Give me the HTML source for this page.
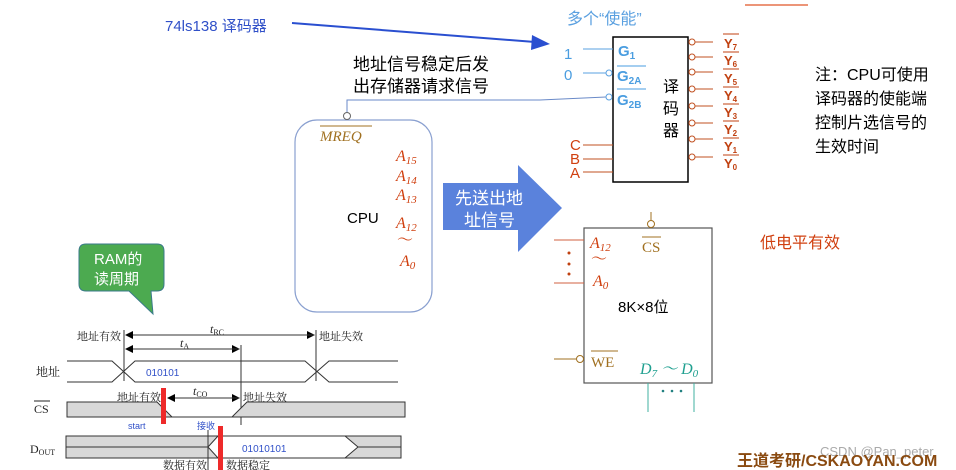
<!DOCTYPE html>
<html><head><meta charset="utf-8"><style>
body{margin:0;background:#fff;width:956px;height:470px;overflow:hidden}
svg{display:block}
text{font-family:"Liberation Sans","Noto Sans CJK SC",sans-serif}
.s{font-family:"Liberation Serif","Noto Serif CJK SC",serif}
</style></head><body>
<svg width="956" height="470" viewBox="0 0 956 470" xmlns="http://www.w3.org/2000/svg">
<defs>
<marker id="ah" markerWidth="8" markerHeight="8" refX="7" refY="4" orient="auto" markerUnits="userSpaceOnUse"><path d="M0,0 L8,4 L0,8 Z" fill="#000"/></marker>
</defs>
<line x1="745" y1="5" x2="808" y2="5" stroke="#e05020" stroke-width="2" opacity="0.6"/>
<text x="165" y="31" font-size="15" fill="#3050c8">74ls138 译码器</text>
<line x1="292" y1="23" x2="535" y2="42" stroke="#2a4fd0" stroke-width="2"/>
<polygon points="550,44 532,35 531,50" fill="#2a4fd0"/>
<text x="567" y="24" font-size="16" fill="#5aa0e0">多个“使能”</text>
<rect x="613" y="37" width="75" height="145" fill="#fff" stroke="#000" stroke-width="1.5"/>
<text x="564" y="59" font-size="15" fill="#4a9de0">1</text>
<text x="564" y="80" font-size="15" fill="#4a9de0">0</text>
<line x1="583" y1="49" x2="613" y2="49" stroke="#5aa0e0"/>
<line x1="583" y1="73" x2="606" y2="73" stroke="#5aa0e0"/>
<circle cx="609" cy="73" r="3" fill="#fff" stroke="#5aa0e0"/>
<path d="M347,113 V100 H540 L606,97" fill="none" stroke="#6a8ac8"/>
<circle cx="609" cy="97" r="3" fill="#fff" stroke="#5aa0e0"/>
<g font-weight="bold">
<text x="618" y="56" font-size="15" fill="#4a9de0">G<tspan font-size="10" dy="3">1</tspan></text>
<text x="617" y="81" font-size="15" fill="#4a9de0">G<tspan font-size="10" dy="3">2A</tspan></text>
<text x="617" y="105" font-size="15" fill="#4a9de0">G<tspan font-size="10" dy="3">2B</tspan></text>
</g>
<line x1="617" y1="66" x2="646" y2="66" stroke="#4a9de0"/>
<line x1="617" y1="89" x2="646" y2="89" stroke="#4a9de0"/>
<text x="663" y="92" font-size="16" fill="#000">译</text>
<text x="663" y="114" font-size="16" fill="#000">码</text>
<text x="663" y="136" font-size="16" fill="#000">器</text>
<g font-size="15" fill="#d04010"><text x="570" y="150">C</text><text x="570" y="164">B</text><text x="570" y="178">A</text></g>
<g stroke="#c05020"><line x1="583" y1="145" x2="613" y2="145"/><line x1="583" y1="159" x2="613" y2="159"/><line x1="583" y1="172" x2="613" y2="172"/></g>
<g stroke="#c05020" fill="#fff">
<line x1="695" y1="42" x2="713" y2="42"/><circle cx="692" cy="42" r="3"/>
<line x1="695" y1="57" x2="713" y2="57"/><circle cx="692" cy="57" r="3"/>
<line x1="695" y1="72" x2="713" y2="72"/><circle cx="692" cy="72" r="3"/>
<line x1="695" y1="89" x2="713" y2="89"/><circle cx="692" cy="89" r="3"/>
<line x1="695" y1="106" x2="713" y2="106"/><circle cx="692" cy="106" r="3"/>
<line x1="695" y1="123" x2="713" y2="123"/><circle cx="692" cy="123" r="3"/>
<line x1="695" y1="139" x2="713" y2="139"/><circle cx="692" cy="139" r="3"/>
<line x1="695" y1="157" x2="713" y2="157"/><circle cx="692" cy="157" r="3"/>
</g>
<g font-size="13" fill="#c04010" font-weight="bold">
<text x="724" y="48">Y<tspan font-size="8" dy="2">7</tspan></text>
<text x="724" y="65">Y<tspan font-size="8" dy="2">6</tspan></text>
<text x="724" y="83">Y<tspan font-size="8" dy="2">5</tspan></text>
<text x="724" y="100">Y<tspan font-size="8" dy="2">4</tspan></text>
<text x="724" y="117">Y<tspan font-size="8" dy="2">3</tspan></text>
<text x="724" y="134">Y<tspan font-size="8" dy="2">2</tspan></text>
<text x="724" y="151">Y<tspan font-size="8" dy="2">1</tspan></text>
<text x="724" y="168">Y<tspan font-size="8" dy="2">0</tspan></text>
</g>
<g stroke="#c04010"><line x1="723" y1="34" x2="739" y2="34"/><line x1="723" y1="52" x2="739" y2="52"/><line x1="723" y1="69" x2="739" y2="69"/><line x1="723" y1="87" x2="739" y2="87"/><line x1="723" y1="104" x2="739" y2="104"/><line x1="723" y1="121" x2="739" y2="121"/><line x1="723" y1="138" x2="739" y2="138"/><line x1="723" y1="155" x2="739" y2="155"/></g>
<g font-size="16" fill="#000"><text x="815" y="80">注：CPU可使用</text><text x="815" y="104">译码器的使能端</text><text x="815" y="128">控制片选信号的</text><text x="815" y="152">生效时间</text></g>
<g font-size="17" fill="#000"><text x="353" y="70">地址信号稳定后发</text><text x="353" y="92">出存储器请求信号</text></g>
<rect x="295" y="120" width="137" height="192" rx="22" fill="#fff" stroke="#8aa0d0" stroke-width="1.2"/>
<circle cx="347" cy="116" r="3.5" fill="#fff" stroke="#666"/>
<line x1="320" y1="126" x2="372" y2="126" stroke="#a07020"/>
<text x="320" y="141" class="s" font-size="15" font-style="italic" fill="#a07020">MREQ</text>
<g class="s" font-style="italic" font-size="16" fill="#d04010">
<text x="396" y="161" class="s">A<tspan font-size="11" dy="3">15</tspan></text>
<text x="396" y="181" class="s">A<tspan font-size="11" dy="3">14</tspan></text>
<text x="396" y="200" class="s">A<tspan font-size="11" dy="3">13</tspan></text>
<text x="396" y="228" class="s">A<tspan font-size="11" dy="3">12</tspan></text>
<text x="397" y="245" class="s" font-style="normal">～</text>
<text x="400" y="266" class="s">A<tspan font-size="11" dy="3">0</tspan></text>
</g>
<text x="347" y="223" font-size="15" fill="#000">CPU</text>
<polygon points="443,183 518,183 518,165 562,208 518,252 518,230 443,230" fill="#5a82dc"/>
<g font-size="17" fill="#fff"><text x="455" y="204">先送出地</text><text x="464" y="226">址信号</text></g>
<rect x="584" y="228" width="128" height="155" fill="#fff" stroke="#555" stroke-width="1.2"/>
<line x1="651" y1="212" x2="651" y2="221" stroke="#a07020"/>
<circle cx="651" cy="224" r="3.5" fill="#fff" stroke="#a07020"/>
<line x1="642" y1="237" x2="661" y2="237" stroke="#a07020"/>
<text x="642" y="252" class="s" font-size="15" fill="#a07020">CS</text>
<g stroke="#d06040"><line x1="554" y1="240" x2="584" y2="240"/><line x1="554" y1="283" x2="584" y2="283"/></g>
<g fill="#c04010"><circle cx="569" cy="253" r="1.5"/><circle cx="569" cy="264" r="1.5"/><circle cx="569" cy="274" r="1.5"/></g>
<g class="s" font-style="italic" font-size="16" fill="#d04010">
<text x="590" y="248" class="s">A<tspan font-size="11" dy="3">12</tspan></text>
<text x="591" y="264" class="s" font-style="normal">～</text>
<text x="593" y="286" class="s">A<tspan font-size="11" dy="3">0</tspan></text>
</g>
<text x="618" y="312" font-size="15" fill="#000">8K×8位</text>
<line x1="554" y1="359" x2="576" y2="359" stroke="#a07020"/>
<circle cx="580" cy="359" r="3.5" fill="#fff" stroke="#a07020"/>
<line x1="591" y1="351" x2="618" y2="351" stroke="#a07020"/>
<text x="591" y="367" class="s" font-size="15" fill="#a07020">WE</text>
<text x="640" y="374" class="s" font-style="italic" font-size="16" fill="#20a090">D<tspan font-size="11" dy="3">7</tspan><tspan dy="-3"> ～ </tspan>D<tspan font-size="11" dy="3">0</tspan></text>
<g stroke="#40b0a0"><line x1="648" y1="383" x2="648" y2="412"/><line x1="694" y1="383" x2="694" y2="412"/></g>
<g fill="#208080"><circle cx="663" cy="391" r="1.3"/><circle cx="672" cy="391" r="1.3"/><circle cx="681" cy="391" r="1.3"/></g>
<text x="760" y="248" font-size="16" fill="#d04010">低电平有效</text>
<path d="M86,244 H157 Q164,244 164,251 V284 Q164,291 157,291 H151 L153,314 L129,291 H86 Q79,291 79,284 V251 Q79,244 86,244 Z" fill="#4caa50" stroke="#3a7a8a" stroke-width="1"/>
<g font-size="15" fill="#fff"><text x="94" y="264">RAM的</text><text x="94" y="284">读周期</text></g>
<g font-size="11" class="s" fill="#222">
<text x="77" y="340" class="s">地址有效</text><text x="319" y="340" class="s">地址失效</text>
<text x="210" y="333" class="s" font-style="italic" font-size="12">t<tspan font-size="8" dy="2" font-style="normal">RC</tspan></text>
<text x="180" y="347" class="s" font-style="italic" font-size="12">t<tspan font-size="8" dy="2" font-style="normal">A</tspan></text>
<text x="193" y="395" class="s" font-style="italic" font-size="12">t<tspan font-size="8" dy="2" font-style="normal">CO</tspan></text>
<text x="117" y="401" class="s">地址有效</text><text x="243" y="401" class="s">地址失效</text>
<text x="36" y="376" class="s" font-size="12">地址</text>
<text x="34" y="413" class="s" font-size="12">CS</text>
<text x="30" y="453" class="s" font-size="12">D<tspan font-size="8" dy="2">OUT</tspan></text>
<text x="163" y="469" class="s">数据有效</text><text x="226" y="469" class="s">数据稳定</text>
</g>
<line x1="34" y1="401" x2="50" y2="401" stroke="#222"/>
<g stroke="#333" stroke-width="1">
<line x1="124" y1="330" x2="124" y2="381"/>
<line x1="241" y1="345" x2="241" y2="425"/>
<line x1="316" y1="330" x2="316" y2="381"/>
<line x1="126" y1="335" x2="314" y2="335" marker-end="url(#ah)"/>
<line x1="314" y1="335" x2="126" y2="335" marker-end="url(#ah)"/>
<line x1="126" y1="349" x2="239" y2="349" marker-end="url(#ah)"/>
<line x1="239" y1="349" x2="126" y2="349" marker-end="url(#ah)"/>
<line x1="168" y1="398" x2="239" y2="398" marker-end="url(#ah)"/>
<line x1="239" y1="398" x2="168" y2="398" marker-end="url(#ah)"/>
<path d="M67,361 H112 L135,382 H305 L329,361 H398" fill="none"/>
<path d="M67,382 H112 L135,361 H305 L329,382 H398" fill="none"/>
</g>
<path d="M67,402 H157 L172,417 H232 L247,402 H405 V417 H67 Z" fill="#d8d8d8" stroke="#333"/>
<rect x="66" y="436" width="335" height="22" fill="#d8d8d8" stroke="#333"/>
<line x1="66" y1="447" x2="208" y2="447" stroke="#333"/>
<line x1="358" y1="447" x2="401" y2="447" stroke="#333"/>
<path d="M208,447 L218,436 H345 L358,447 L345,458 H218 Z" fill="#fff" stroke="#333"/>
<line x1="208" y1="430" x2="208" y2="470" stroke="#333"/>
<text x="146" y="376" font-size="10" fill="#3050c8">010101</text>
<text x="242" y="452" font-size="10" fill="#3050c8">01010101</text>
<text x="128" y="429" font-size="9" fill="#3050c8">start</text>
<text x="197" y="429" font-size="9" fill="#3050c8">接收</text>
<rect x="161" y="388" width="5" height="36" fill="#ee2a2a"/>
<rect x="218" y="426" width="5" height="44" fill="#ee2a2a"/>
<text x="820" y="456" font-size="13" fill="#aaa">CSDN @Pan_peter</text>
<text x="737" y="466" font-size="16" font-weight="bold" fill="#8a4a10">王道考研/CSKAOYAN.COM</text>
</svg>
</body></html>
